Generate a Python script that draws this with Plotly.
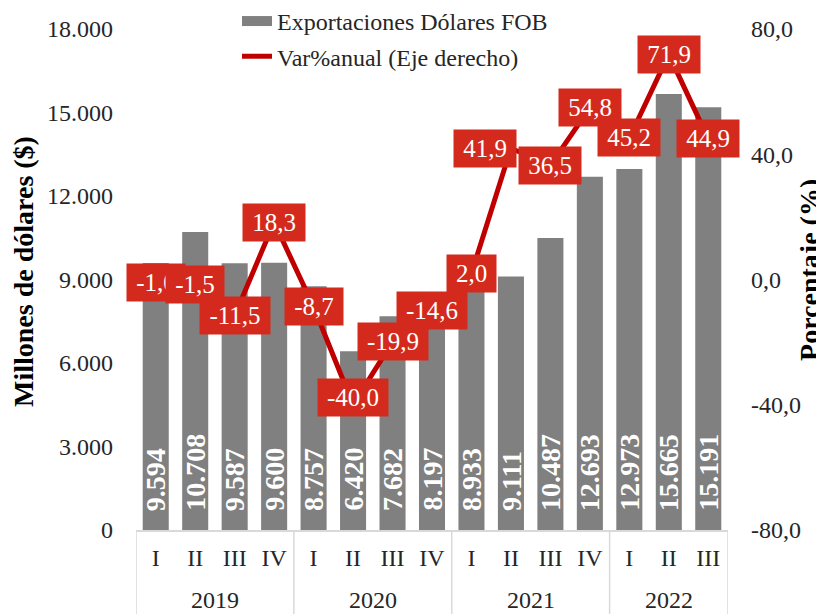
import plotly.graph_objects as go

years = ["2019"] * 4 + ["2020"] * 4 + ["2021"] * 4 + ["2022"] * 3
quarters = ["I", "II", "III", "IV", "I", "II", "III", "IV", "I", "II", "III", "IV", "I", "II", "III"]
exports = [9594, 10708, 9587, 9600, 8757, 6420, 7682, 8197, 8933, 9111, 10487, 12693, 12973, 15665, 15191]
var_pct = [-1.0, -1.5, -11.5, 18.3, -8.7, -40.0, -19.9, -14.6, 2.0, 41.9, 36.5, 54.8, 45.2, 71.9, 44.9]

left_ticks = [0, 3000, 6000, 9000, 12000, 15000, 18000]
left_ticktext = ["0", "3.000", "6.000", "9.000", "12.000", "15.000", "18.000"]
right_ticks = [-80, -40, 0, 40, 80]
right_ticktext = ["-80,0", "-40,0", "0,0", "40,0", "80,0"]

name_bar = "Exportaciones Dólares FOB"
name_line = "Var%anual (Eje derecho)"
title_left = "Millones de dólares ($)"
title_right = "Porcentaje (%)"

BAR = "#808080"
LINE = "#C00000"
BOX = "#D42A1D"
TXT = "#262626"
GRID = "#d9d9d9"
SERIF = "Liberation Serif"
LBL_SIZE = 25

# manual nudges of some line labels (pixels), as in the original chart
label_nudge = {5: (0, 7), 7: (0, 15), 9: (-26, 0)}


def fmt_thousands(v):
    return f"{v:,}".replace(",", ".")


def fmt_dec(v):
    return f"{v:.1f}".replace(".", ",")


def text_px(s, size):
    w = {",": 0.25, ".": 0.25, "-": 0.333}
    return sum(w.get(c, 0.5) for c in s) * size


idx = list(range(len(exports)))

# year groups (label, first index, last index) derived from the category list
groups = []
for i, y in enumerate(years):
    if not groups or groups[-1][0] != y:
        groups.append([y, i, i])
    else:
        groups[-1][2] = i

fig = go.Figure()
fig.add_trace(go.Bar(
    x=idx, y=exports, name=name_bar, marker_color=BAR,
    marker_line_width=0, showlegend=False, yaxis="y",
))
# legend proxy for bar (wide gray band)
fig.add_trace(go.Scatter(
    x=[None], y=[None], mode="lines", name=name_bar, legendgroup="a",
    line=dict(color=BAR, width=13), yaxis="y",
))
fig.add_trace(go.Scatter(
    x=idx, y=var_pct, name=name_line, mode="lines", legendgroup="b",
    line=dict(color=LINE, width=5), yaxis="y2",
))

annotations = []
for i, v in enumerate(exports):
    annotations.append(dict(
        x=i, y=0, xref="x", yref="y", text=fmt_thousands(v), showarrow=False,
        textangle=-90, yanchor="bottom", xanchor="center", yshift=17,
        font=dict(family=SERIF, size=28, color="white", weight="bold"),
    ))
for i, v in enumerate(var_pct):
    t = fmt_dec(v)
    dx, dy = label_nudge.get(i, (0, 0))
    annotations.append(dict(
        x=i, y=v, xref="x", yref="y2", text=t, showarrow=False,
        xanchor="center", yanchor="middle", bgcolor=BOX, borderpad=5,
        width=round(text_px(t, LBL_SIZE) + 8), align="center",
        xshift=dx, yshift=dy,
        font=dict(family=SERIF, size=LBL_SIZE, color="white"),
    ))
shapes = []
bounds = [g[1] - 0.5 for g in groups] + [groups[-1][2] + 0.5]
for b in bounds:
    shapes.append(dict(type="line", xref="x", yref="paper", x0=b, x1=b,
                       y0=0, y1=-0.17, line=dict(color=GRID, width=1.5)))
for y, s, e in groups:
    annotations.append(dict(
        x=(s + e) / 2, y=-0.1397, xref="x", yref="paper", text=y, showarrow=False,
        xanchor="center", yanchor="middle",
        font=dict(family=SERIF, size=24, color=TXT),
    ))
# axis titles
annotations.append(dict(
    x=-0.1892, y=0.517, xref="paper", yref="paper", text=title_left,
    showarrow=False, textangle=-90, xanchor="center", yanchor="middle",
    font=dict(family=SERIF, size=28, color="black", weight="bold"),
))
annotations.append(dict(
    x=1.1385, y=0.519, xref="paper", yref="paper", text=title_right,
    showarrow=False, textangle=-90, xanchor="center", yanchor="middle",
    font=dict(family=SERIF, size=28, color="black", weight="bold"),
))

fig.update_layout(
    width=816, height=606,
    margin=dict(l=128, r=96, t=21, b=84, autoexpand=False),
    paper_bgcolor="white", plot_bgcolor="rgba(0,0,0,0)",
    bargap=0.34,
    font=dict(family=SERIF, size=24, color=TXT),
    showlegend=True,
    legend=dict(
        x=0.1706, y=1.06, xref="paper", yref="paper",
        xanchor="left", yanchor="top",
        bgcolor="rgba(0,0,0,0)", font=dict(family=SERIF, size=24, color=TXT),
        tracegroupgap=1, itemwidth=30, traceorder="grouped",
    ),
    xaxis=dict(
        range=[-0.5, len(exports) - 0.5], tickvals=idx, ticktext=quarters,
        showgrid=False, zeroline=False, showline=True, linecolor=GRID,
        linewidth=2, ticks="", ticklabelstandoff=5, automargin=False,
        tickfont=dict(family=SERIF, size=24, color=TXT),
    ),
    yaxis=dict(
        range=[0, 18000], tickvals=left_ticks, ticktext=left_ticktext,
        showgrid=False, zeroline=False, showline=False, ticks="",
        ticklabelstandoff=22, automargin=False,
        tickfont=dict(family=SERIF, size=24, color=TXT),
    ),
    yaxis2=dict(
        range=[-80, 80], tickvals=right_ticks, ticktext=right_ticktext,
        overlaying="y", side="right", showgrid=False, zeroline=False,
        showline=False, ticks="", ticklabelstandoff=22, automargin=False,
        tickfont=dict(family=SERIF, size=24, color=TXT),
    ),
    annotations=annotations,
    shapes=shapes,
)

fig.write_html("out.html")
